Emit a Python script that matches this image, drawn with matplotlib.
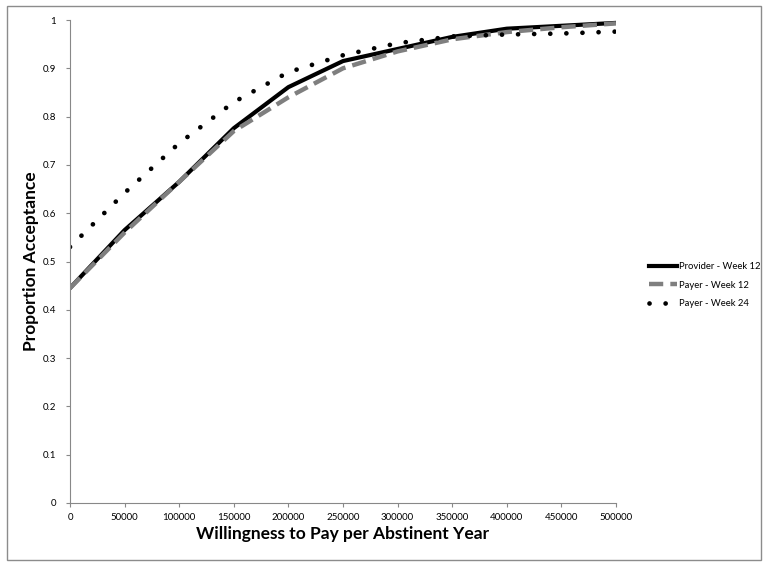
import numpy as np
import matplotlib.pyplot as plt
from matplotlib.patches import Rectangle
from matplotlib.lines import Line2D

plt.rcParams['font.family'] = ['Lato', 'DejaVu Sans']

# willingness to pay levels
wtp = [0, 50000, 100000, 150000, 200000, 250000, 300000, 350000, 400000, 450000, 500000]
provider_wk12 = [0.445, 0.565, 0.665, 0.776, 0.861, 0.915, 0.940, 0.965, 0.982, 0.988, 0.994]
payer_wk12 = [0.445, 0.560, 0.665, 0.770, 0.840, 0.900, 0.935, 0.960, 0.975, 0.985, 0.993]
payer_wk24 = [0.530, 0.642, 0.745, 0.830, 0.892, 0.927, 0.952, 0.966, 0.970, 0.972, 0.976]
labels = ['Provider - Week 12', 'Payer - Week 12', 'Payer - Week 24']

fig = plt.figure(figsize=(7.63, 5.62), dpi=100)
ax = fig.add_axes([70/763, 59/562, 546/763, 483/562])

solid = dict(color='black', lw=3, solid_joinstyle='round')
dashed = dict(color='#7f7f7f', lw=3.2, ls=(0, (3.2, 1.6)))
dotted = dict(color='black', lw=3.4, ls=(0, (0.01, 3.4)), dash_capstyle='round')

ax.plot(wtp, provider_wk12, **solid)
ax.plot(wtp, payer_wk12, **dashed)
ax.plot(wtp, payer_wk24, **dotted)

ax.set_xlim(0, 500000)
ax.set_ylim(0, 1)
ax.set_xticks(np.arange(0, 500001, 50000))
ax.set_yticks(np.arange(0, 1.01, 0.1))
ax.set_yticklabels(['0', '0.1', '0.2', '0.3', '0.4', '0.5', '0.6', '0.7', '0.8', '0.9', '1'])
for s in ['top', 'right']:
    ax.spines[s].set_visible(False)
for s in ['left', 'bottom']:
    ax.spines[s].set_color('#888888')
ax.tick_params(colors='#888888', labelcolor='black', labelsize=7, length=3, width=0.8)
ax.tick_params(axis='x', pad=4)
ax.tick_params(axis='y', pad=7)

ax.set_xlabel('Willingness to Pay per Abstinent Year', fontsize=12.5, fontweight='bold')
ax.set_ylabel('Proportion Acceptance', fontsize=12.5, fontweight='bold')
ax.xaxis.set_label_coords(0.5, -0.048)
ax.yaxis.set_label_coords(-0.056, 0.5)

# legend on the right, outside the plot
handles = [Line2D([], [], **solid), Line2D([], [], **dashed), Line2D([], [], **dotted)]
fig.legend(handles, labels, loc='center left', bbox_to_anchor=(649/763, 1 - 285/562),
           frameon=False, fontsize=6.8, handlelength=3.0, handletextpad=0.2,
           labelspacing=1.0, borderaxespad=0, borderpad=0)

fig.patches.append(Rectangle((7/763, 2/562), 754/763, 554/562, transform=fig.transFigure,
                             fill=False, edgecolor='#8c8c8c', lw=1))

fig.savefig('out.png', dpi=100)
